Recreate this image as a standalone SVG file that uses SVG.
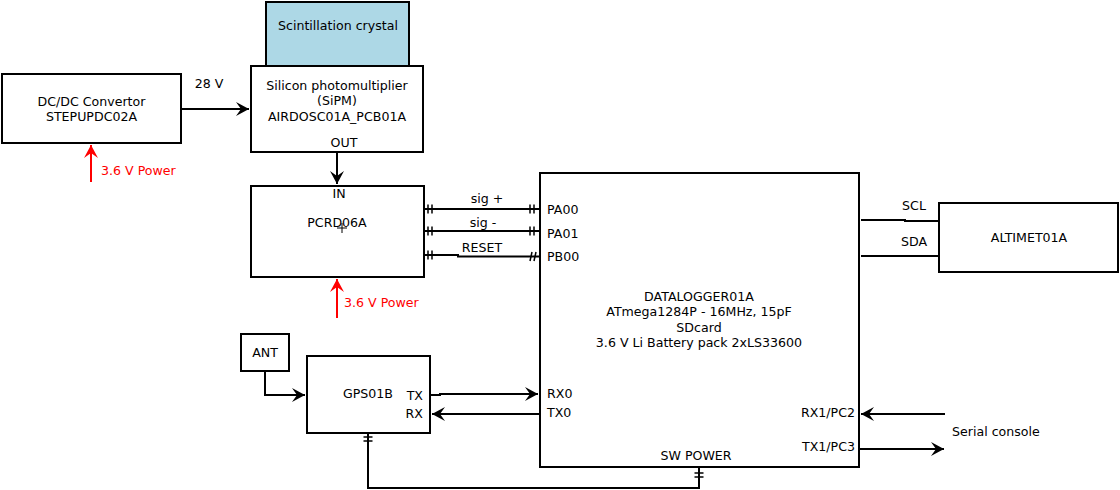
<svg xmlns="http://www.w3.org/2000/svg" width="1120" height="490" viewBox="0 0 1120 490">
<style>
.box{fill:#fff;stroke:#000;stroke-width:2}
.crystal{fill:#add8e6;stroke:#000;stroke-width:2}
text{font-family:"DejaVu Sans","Liberation Sans",sans-serif;font-size:12.6px;fill:#000}
.c{text-anchor:middle}
.r{text-anchor:end}
.red{fill:#ff0000}
.ln{fill:none;stroke:#000;stroke-width:2}
.rl{fill:none;stroke:#ff0000;stroke-width:2}
.tk{fill:none;stroke:#000;stroke-width:1.5}
</style>
<defs>
<marker id="ah" markerUnits="userSpaceOnUse" markerWidth="16" markerHeight="16" viewBox="-14 -8 16 16" refX="0" refY="0" orient="auto">
<path d="M0,0 L-13,-7 L-8,0 L-13,7 Z" fill="#000"/>
</marker>
<marker id="ahr" markerUnits="userSpaceOnUse" markerWidth="16" markerHeight="16" viewBox="-14 -8 16 16" refX="0" refY="0" orient="auto">
<path d="M0,0 L-13,-7 L-8,0 L-13,7 Z" fill="#ff0000"/>
</marker>
</defs>

<g id="connectors">
<path class="ln" d="M181,109 H249" marker-end="url(#ah)"/>
<text x="209" y="88" class="c">28 V</text>
<path class="rl" d="M91,182 V145" marker-end="url(#ahr)"/>
<text x="101" y="175" class="red">3.6 V Power</text>
<path class="ln" d="M337,152 V184" marker-end="url(#ah)"/>
<path class="rl" d="M337,318 V279" marker-end="url(#ahr)"/>
<text x="344" y="307" class="red">3.6 V Power</text>

<path class="ln" d="M424,209 H540"/>
<path class="tk" d="M428,204.5 v9 M432,204.5 v9 M530,204.5 v9 M534,204.5 v9"/>
<text x="487" y="203" class="c">sig +</text>
<path class="ln" d="M424,231 H540"/>
<path class="tk" d="M428,226.5 v9 M432,226.5 v9 M530,226.5 v9 M534,226.5 v9"/>
<text x="483" y="227" class="c">sig -</text>
<path class="ln" d="M424,255 H458 V256.5 H540"/>
<path class="tk" d="M428,250.5 v9 M432,250.5 v9 M530,261 l2,-9 M534,261 l2,-9"/>
<text x="482" y="252" class="c">RESET</text>

<path class="ln" d="M861,220 H905 V221 H939"/>
<text x="914" y="210" class="c">SCL</text>
<path class="ln" d="M861,256 H939"/>
<text x="914" y="246" class="c">SDA</text>

<path class="ln" d="M265,372 V395 H305" marker-end="url(#ah)"/>
<path class="ln" d="M430,395 H440 V394 H538" marker-end="url(#ah)"/>
<path class="ln" d="M540,414 H432" marker-end="url(#ah)"/>

<path class="ln" d="M368,433 V488 H699 V468"/>
<path class="tk" d="M363.5,437 h9 M363.5,441 h9 M694.5,473 h9 M694.5,477 h9"/>

<path class="ln" d="M945,414 H861" marker-end="url(#ah)"/>
<path class="ln" d="M860,449 H944" marker-end="url(#ah)"/>
<text x="952" y="436">Serial console</text>
</g>

<g id="dcdc">
<rect class="box" x="2" y="74" width="179" height="69"/>
<text x="91.5" y="105.5" class="c">DC/DC Convertor</text>
<text x="91.5" y="121" class="c">STEPUPDC02A</text>
</g>

<g id="crystal">
<rect class="crystal" x="266" y="2" width="143" height="64"/>
<text x="338" y="30" class="c">Scintillation crystal</text>
</g>

<g id="sipm">
<rect class="box" x="251" y="66" width="172" height="86"/>
<text x="337" y="89.5" class="c">Silicon photomultiplier</text>
<text x="337" y="105" class="c">(SiPM)</text>
<text x="337" y="120.5" class="c">AIRDOSC01A_PCB01A</text>
<text x="344" y="147" class="c">OUT</text>
</g>

<g id="pcrd">
<rect class="box" x="251" y="186" width="173" height="91"/>
<text x="339" y="198" class="c">IN</text>
<text x="337" y="227" class="c">PCRD06A</text>
<path d="M342,223 v10 M337,228 h10" stroke="#000" stroke-width="1" fill="none"/>
</g>

<g id="datalogger">
<rect class="box" x="540" y="173" width="319" height="294"/>
<text x="547" y="214">PA00</text>
<text x="547" y="238">PA01</text>
<text x="547" y="261">PB00</text>
<text x="699" y="300.5" class="c">DATALOGGER01A</text>
<text x="699" y="316" class="c">ATmega1284P - 16MHz, 15pF</text>
<text x="699" y="332" class="c">SDcard</text>
<text x="699" y="347" class="c">3.6 V Li Battery pack 2xLS33600</text>
<text x="547" y="398">RX0</text>
<text x="547" y="417">TX0</text>
<text x="855" y="416.5" class="r">RX1/PC2</text>
<text x="855" y="450.5" class="r">TX1/PC3</text>
<text x="696" y="460" class="c">SW POWER</text>
</g>

<g id="altimet">
<rect class="box" x="939" y="203" width="179" height="69"/>
<text x="1029" y="242" class="c">ALTIMET01A</text>
</g>

<g id="ant">
<rect class="box" x="241" y="334" width="48" height="37"/>
<text x="265" y="357" class="c">ANT</text>
</g>

<g id="gps">
<rect class="box" x="307" y="356" width="123" height="77"/>
<text x="368" y="398" class="c">GPS01B</text>
<text x="423" y="400" class="r">TX</text>
<text x="423" y="418" class="r">RX</text>
</g>
</svg>
